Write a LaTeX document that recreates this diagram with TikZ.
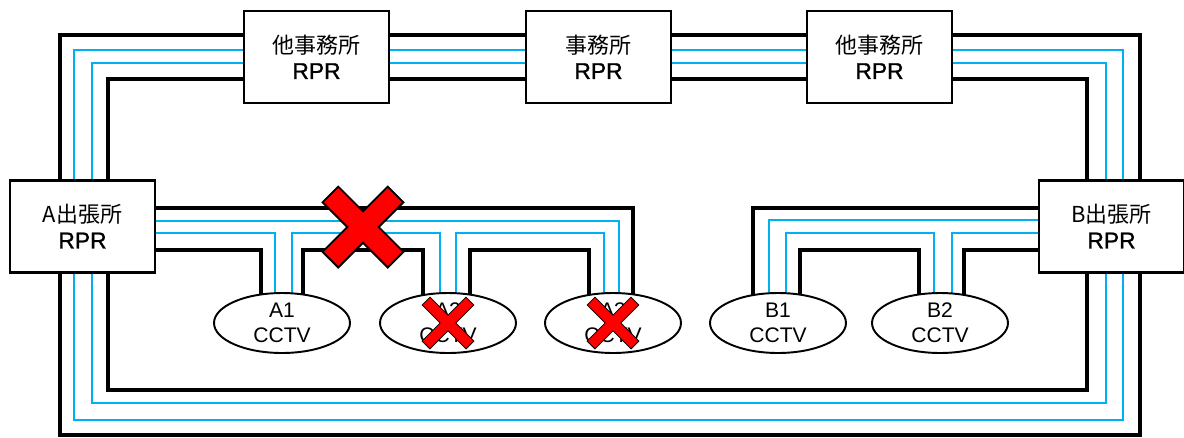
\documentclass[tikz,border=0pt]{standalone}
\usepackage{fontspec}
\setmainfont{Liberation Sans}
\newfontfamily\jp{Noto Sans CJK JP}
\newfontfamily\rprfont[FakeBold=1.2]{Liberation Sans}
\usetikzlibrary{shapes.geometric,backgrounds}
\definecolor{optblue}{RGB}{0,176,240}
\newcommand\failmark[5]{%
  \foreach \a in {45,-45}
    \draw[line width=#5,rotate around={\a:(#1,#2)}] (#1-#3/2,#2-#4/2) rectangle (#1+#3/2,#2+#4/2);
  \foreach \a in {45,-45}
    \fill[red,rotate around={\a:(#1,#2)}] (#1-#3/2,#2-#4/2) rectangle (#1+#3/2,#2+#4/2);
}

\begin{document}
\begin{tikzpicture}[x=0.02cm,y=-0.02cm,
  rpr/.style={draw,fill=white,line width=1.5pt,minimum width=2.9cm,minimum height=1.84cm,align=center,font=\fontsize{12.5}{14.5}\selectfont},
  cctv/.style={ellipse,draw,fill=white,line width=1.1pt,minimum width=2.72cm,minimum height=1.2cm,inner sep=0pt,align=center,font=\fontsize{12}{14}\selectfont},
  cable/.style={line width=2.7pt},
  optic/.style={optblue,line width=0.8pt}]
\useasboundingbox (0,0) rectangle (1184,437);

\node[rpr] (A) at (82.5,226.5) {{\jp A出張所}\\{\rprfont\fontsize{13}{14.5}\selectfont RPR}};
\node[rpr] (oL) at (316.5,57) {{\jp 他事務所}\\{\rprfont\fontsize{13}{14.5}\selectfont RPR}};
\node[rpr] (HQ) at (598.5,57) {{\jp 事務所}\\{\rprfont\fontsize{13}{14.5}\selectfont RPR}};
\node[rpr] (oR) at (879.5,57) {{\jp 他事務所}\\{\rprfont\fontsize{13}{14.5}\selectfont RPR}};
\node[rpr] (B) at (1111.5,226.5) {{\jp B出張所}\\{\rprfont\fontsize{13}{14.5}\selectfont RPR}};

\node[cctv] (A1) at (282,323) {A1\\CCTV};
\node[cctv] (A2) at (448,323) {A2\\CCTV};
\node[cctv] (A3) at (613,323) {A3\\CCTV};
\node[cctv] (B1) at (778,323) {B1\\CCTV};
\node[cctv] (B2) at (940,323) {B2\\CCTV};

\begin{scope}[on background layer]
\foreach \s/\xl/\xr/\yt/\yb in {cable/60/1140/35/435, optic/74/1123/50/420, optic/92/1106/63/403, cable/108/1087/79/390} {
  \draw[\s] (A.north -| \xl,0) |- (oL.west |- 0,\yt);
  \draw[\s] (oL.east |- 0,\yt) -- (HQ.west |- 0,\yt);
  \draw[\s] (HQ.east |- 0,\yt) -- (oR.west |- 0,\yt);
  \draw[\s] (oR.east |- 0,\yt) -| (B.north -| \xr,0);
  \draw[\s] (A.south -| \xl,0) |- (\xr,\yb) -- (B.south -| \xr,0);
}
\draw[cable] (A.east |- 0,208) -| (A3.center -| 633,0);
\draw[optic] (A.east |- 0,221) -| (A3.center -| 619,0);
\draw[optic] (A.east |- 0,233) -| (A1.center -| 275,0);
\draw[cable] (A.east |- 0,250) -| (A1.center -| 261,0);
\draw[optic] (A1.center -| 292,0) -- (292,233) -| (A2.center -| 440,0);
\draw[cable] (A1.center -| 303,0) -- (303,250) -| (A2.center -| 423,0);
\draw[optic] (A2.center -| 456,0) -- (456,233) -| (A3.center -| 604,0);
\draw[cable] (A2.center -| 470,0) -- (470,250) -| (A3.center -| 589,0);

\draw[cable] (B.west |- 0,208) -| (B1.center -| 753,0);
\draw[optic] (B.west |- 0,220) -| (B1.center -| 769,0);
\draw[optic] (B1.center -| 786,0) -- (786,233) -| (B2.center -| 934,0);
\draw[cable] (B1.center -| 800,0) -- (800,250) -| (B2.center -| 919,0);
\draw[optic] (B2.center -| 952,0) |- (B.west |- 0,233);
\draw[cable] (B2.center -| 964,0) |- (B.west |- 0,250);
\end{scope}

\failmark{363}{227}{90}{20}{2.3pt}
\failmark{448}{323}{61}{10}{1.1pt}
\failmark{613}{323}{61}{10}{1.1pt}
\end{tikzpicture}
\end{document}
